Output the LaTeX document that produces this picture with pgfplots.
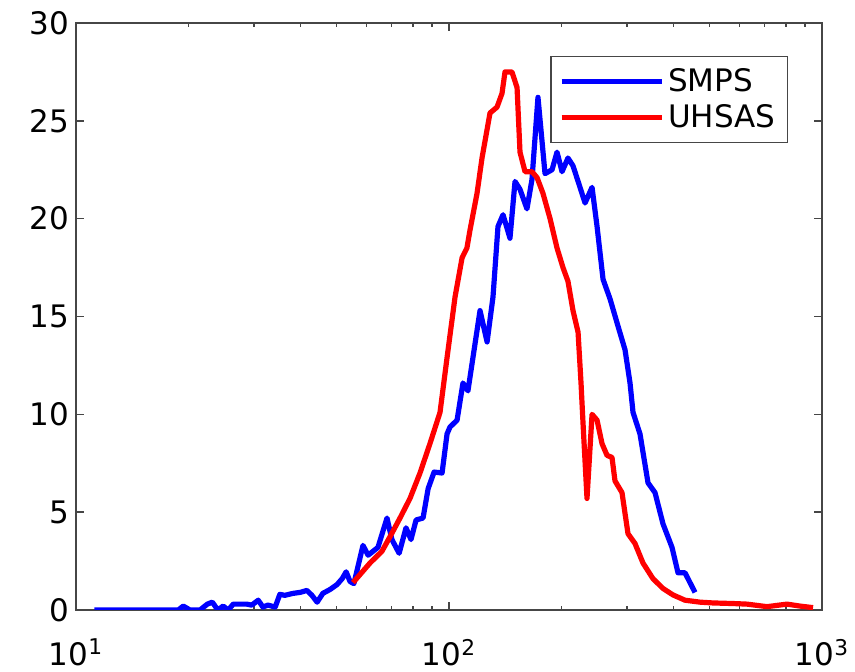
\documentclass[border=0pt]{standalone}
\usepackage{fontspec}
\setmainfont{DejaVu Sans}
\usepackage{pgfplots}
\pgfplotsset{compat=1.18}
\definecolor{axgray}{RGB}{70,70,70}
\begin{document}
\begin{tikzpicture}
\path[use as bounding box] (-38pt,-31pt) rectangle (389.5pt,305pt);
\begin{axis}[
  scale only axis,
  width=373pt, height=293.5pt,
  xmode=log,
  xmin=10, xmax=1000,
  ymin=0, ymax=30,
  ytick={0,5,10,15,20,25,30},
  xtick={10,100,1000},
  xticklabels={10\textsuperscript{1},10\textsuperscript{2},10\textsuperscript{3}},
  xticklabel style={yshift=-11pt},
  /pgf/number format/assume math mode=true,
  tick label style={font=\fontsize{15.5}{18}\selectfont},
  axis line style={axgray, line width=0.8pt},
  every tick/.style={axgray, line width=0.7pt},
  major tick length=4pt,
  minor tick length=2.2pt,
  tick align=inside,
  legend style={at={(0.9544,0.9438)}, anchor=north east,
    draw=axgray, line width=0.6pt,
    font=\fontsize{15.5}{18}\selectfont,
    inner xsep=4pt, inner ysep=4pt,
    row sep=1pt},
  legend cell align=left,
  legend image code/.code={\draw[#1, line width=2.6pt] (0pt,0pt) -- (50pt,0pt);},
]
\addplot[blue, line width=2.6pt, line join=round] coordinates {
(11.2,0) (18.8,0) (19.4,0.2) (20.2,0) (21.5,0) (22.5,0.3) (23.2,0.4) (24.0,0)
(24.8,0.2) (25.6,0) (26.4,0.3) (28.7,0.3) (29.6,0.25) (30.8,0.5) (31.7,0.15)
(32.7,0.25) (34.2,0.15) (35.2,0.8) (36.3,0.75) (38.2,0.85) (39.9,0.9) (41.6,1.0)
(42.9,0.75) (44.3,0.4) (45.9,0.85) (48.0,1.05) (50.1,1.3) (51.7,1.6) (53.0,1.95)
(54.3,1.45) (55.6,1.35) (58.8,3.3) (60.7,2.8) (64.5,3.2) (68.2,4.7) (70.3,3.6)
(73.5,2.9) (76.7,4.2) (79.1,3.6) (81.6,4.6) (85.2,4.7) (87.9,6.2) (91.2,7.05)
(95.8,7.0) (98.8,9.0) (100.6,9.35) (105.1,9.7) (109.0,11.6) (112.4,11.2)
(121.1,15.3) (126.5,13.7) (131.2,16.0) (135.3,19.6) (139.6,20.2) (145.7,19.0)
(150.3,21.9) (155.0,21.5) (161.8,20.5) (166.9,22.0) (173.2,26.2) (180.9,22.3)
(188.9,22.5) (194.8,23.4) (200.9,22.4) (208.4,23.1) (215.0,22.7) (224.5,21.6)
(231.6,20.8) (241.8,21.6) (249.4,19.6) (258.8,16.9) (270.2,15.9) (283.9,14.5)
(296.4,13.3) (305.7,11.6) (311.4,10.1) (325.1,9.0) (341.6,6.5) (356.7,6.0)
(374.8,4.4) (396.2,3.2) (411.1,1.9) (429.2,1.9) (456.6,0.9)
};
\addlegendentry{SMPS}
\addplot[red, line width=2.6pt, line join=round] coordinates {
(55.3,1.4) (61.4,2.4) (66.1,3.0) (69.5,3.75) (73.9,4.7) (78.6,5.7) (83.6,7.0)
(88.9,8.5) (94.6,10.1) (98.8,12.9) (103.8,16.0) (108.4,18.0) (111.7,18.5)
(113.8,19.4) (118.9,21.3) (122.6,23.1) (128.8,25.4) (134.5,25.7) (138.7,26.4)
(141.3,27.5) (147.5,27.5) (152.2,26.7) (155.0,23.4) (159.9,22.4) (166.9,22.4)
(172.2,22.1) (178.6,21.3) (186.6,20.0) (194.8,18.5) (202.1,17.5) (208.4,16.8)
(215.0,15.3) (221.8,14.2) (225.9,11.6) (228.7,9.55) (234.4,5.7) (241.8,10.0)
(249.4,9.7) (257.2,8.5) (265.3,7.9) (273.5,7.8) (278.6,6.6) (290.9,6.0)
(301.9,3.9) (315.2,3.4) (331.2,2.4) (352.3,1.6) (374.8,1.1) (398.6,0.77)
(429.2,0.5) (471.0,0.4) (510.4,0.36) (577.2,0.33) (629.4,0.3) (712,0.17)
(805.7,0.3) (873,0.2) (946,0.12)
};
\addlegendentry{UHSAS}
\end{axis}
\end{tikzpicture}
\end{document}
